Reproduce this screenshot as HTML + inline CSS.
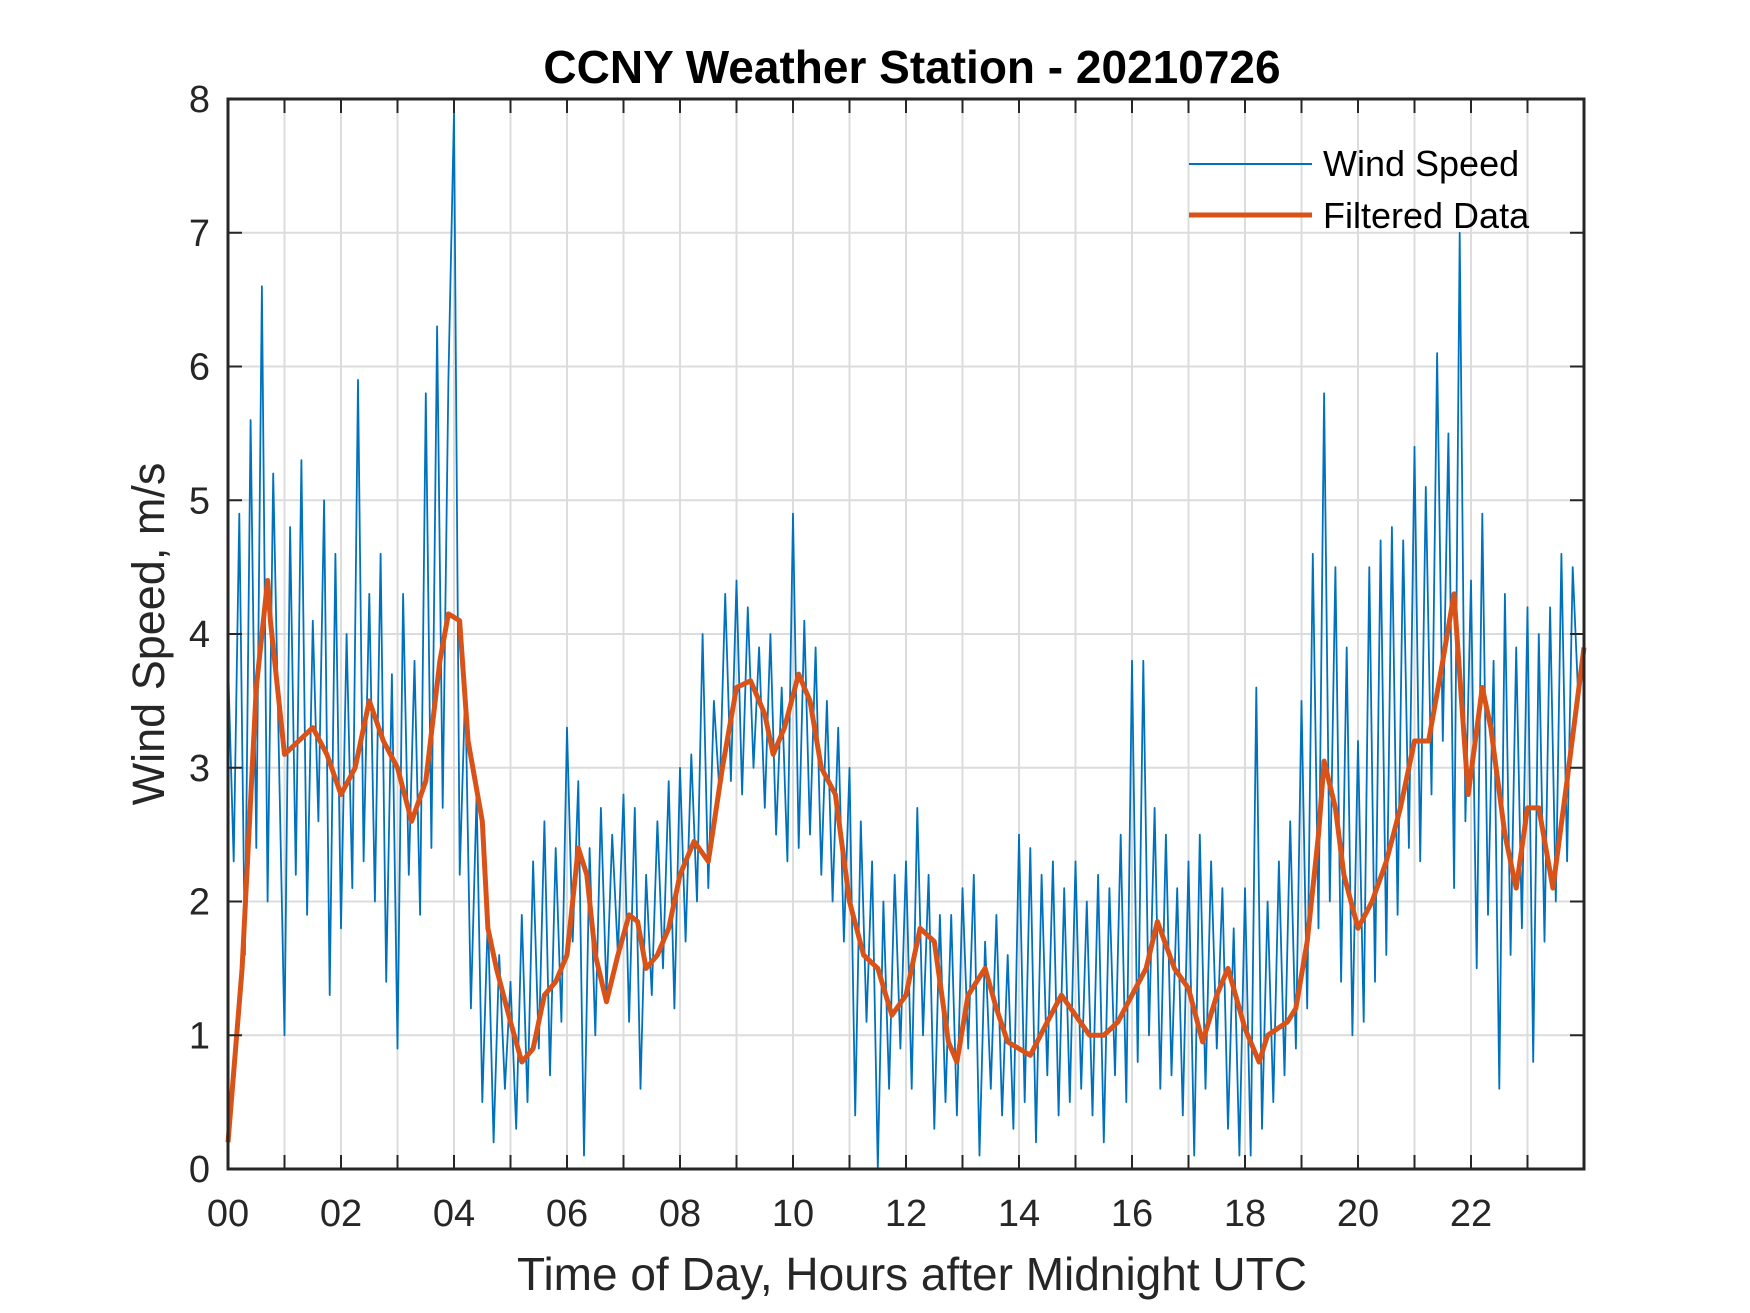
<!DOCTYPE html>
<html><head><meta charset="utf-8"><style>
html,body{margin:0;padding:0;background:#fff;}
svg{display:block;font-family:"Liberation Sans",Arial,sans-serif;}
</style></head><body>
<svg id="chart" width="1750" height="1313" viewBox="0 0 1750 1313" xmlns="http://www.w3.org/2000/svg">
<rect width="1750" height="1313" fill="#fff"/>
<g id="grid"></g>
<g id="series"></g>
<g id="axes"></g>
<text x="912" y="83" text-anchor="middle" font-size="46" font-weight="bold" fill="#000">CCNY Weather Station - 20210726</text>
<text x="912" y="1290" text-anchor="middle" font-size="46" fill="#262626">Time of Day, Hours after Midnight UTC</text>
<text transform="translate(164,634) rotate(-90)" text-anchor="middle" font-size="45" fill="#262626">Wind Speed, m/s</text>
<g>
<line x1="1199" y1="164" x2="1322" y2="164" stroke="#0072BD" stroke-width="2" transform="translate(-10,0)"/>
<text x="1323" y="176" font-size="36" fill="#000">Wind Speed</text>
<line x1="1189" y1="215" x2="1312" y2="215" stroke="#D95319" stroke-width="5"/>
<text x="1323" y="228" font-size="36" fill="#000">Filtered Data</text>
</g>
</svg>
<script>
const xTickLabels = ["00","02","04","06","08","10","12","14","16","18","20","22"];
const yTickLabels = ["0","1","2","3","4","5","6","7","8"];
const rawStep = 0.1;
const rawValues = [
3.8,2.3,4.9,1.6,5.6,2.4,6.6,2.0,5.2,3.1,
1.0,4.8,2.2,5.3,1.9,4.1,2.6,5.0,1.3,4.6,
1.8,4.0,2.1,5.9,2.3,4.3,2.0,4.6,1.4,3.7,
0.9,4.3,2.2,3.8,1.9,5.8,2.4,6.3,2.7,5.9,
7.9,2.2,3.6,1.2,2.8,0.5,1.9,0.2,1.6,0.6,
1.4,0.3,1.9,0.5,2.3,0.9,2.6,0.7,2.4,1.1,
3.3,1.7,2.9,0.1,2.4,1.0,2.7,1.3,2.5,1.6,
2.8,1.1,2.7,0.6,2.2,1.3,2.6,1.5,2.9,1.2,
3.0,1.7,3.1,2.0,4.0,2.1,3.5,2.8,4.3,2.9,
4.4,2.8,4.2,3.0,3.9,2.7,4.0,2.5,3.6,2.3,
4.9,2.4,4.1,2.5,3.9,2.2,3.5,2.0,3.3,1.7,
3.0,0.4,2.6,1.1,2.3,0.0,2.0,0.6,2.2,0.9,
2.3,0.6,2.7,1.0,2.2,0.3,1.9,0.5,1.9,0.4,
2.1,0.9,2.2,0.1,1.7,0.6,1.9,0.4,1.6,0.3,
2.5,0.5,2.4,0.2,2.2,0.7,2.3,0.4,2.1,0.5,
2.3,0.6,2.0,0.4,2.2,0.2,2.1,0.7,2.5,0.5,
3.8,0.8,3.8,1.0,2.7,0.6,2.5,0.7,2.1,0.4,
2.3,0.1,2.5,0.6,2.3,0.9,2.1,0.3,1.8,0.1,
2.1,0.1,3.6,0.3,2.0,0.5,2.3,0.7,2.6,0.9,
3.5,1.2,4.6,1.8,5.8,2.0,4.5,1.4,3.9,1.0,
3.2,1.1,4.5,1.4,4.7,1.6,4.8,1.9,4.7,2.4,
5.4,2.3,5.1,2.8,6.1,3.2,5.5,2.1,7.0,2.6,
4.4,1.5,4.9,1.9,3.8,0.6,4.3,1.6,3.9,1.8,
4.2,0.8,4.0,1.7,4.2,2.0,4.6,2.3,4.5,3.5
];
const filtHours = [0,0.25,0.5,0.7,0.75,1.0,1.25,1.5,1.75,2.0,2.25,2.5,2.75,3.0,3.25,3.5,3.75,3.9,4.1,4.25,4.5,4.6,4.75,5.0,5.2,5.4,5.6,5.8,6.0,6.2,6.35,6.5,6.7,6.9,7.1,7.25,7.4,7.6,7.8,8.0,8.25,8.5,8.75,9.0,9.25,9.5,9.65,9.85,10.1,10.3,10.5,10.75,11.0,11.25,11.5,11.75,12.0,12.25,12.5,12.75,12.9,13.1,13.4,13.6,13.8,14.0,14.2,14.5,14.75,15.0,15.25,15.5,15.75,16.0,16.25,16.45,16.75,17.0,17.25,17.5,17.7,18.0,18.25,18.4,18.75,18.9,19.1,19.3,19.4,19.6,19.75,20.0,20.25,20.5,20.75,21.0,21.25,21.5,21.7,21.85,21.95,22.2,22.35,22.6,22.8,23.0,23.2,23.45,23.7,24];
const filtValues = [0.2,1.5,3.6,4.4,4.1,3.1,3.2,3.3,3.1,2.8,3.0,3.5,3.2,3.0,2.6,2.9,3.8,4.15,4.1,3.2,2.6,1.8,1.5,1.1,0.8,0.9,1.3,1.4,1.6,2.4,2.2,1.6,1.25,1.6,1.9,1.85,1.5,1.6,1.8,2.2,2.45,2.3,3.0,3.6,3.65,3.4,3.1,3.3,3.7,3.5,3.0,2.8,2.0,1.6,1.5,1.15,1.3,1.8,1.7,0.95,0.8,1.3,1.5,1.2,0.95,0.9,0.85,1.1,1.3,1.15,1.0,1.0,1.1,1.3,1.5,1.85,1.5,1.35,0.95,1.3,1.5,1.05,0.8,1.0,1.1,1.2,1.7,2.5,3.05,2.7,2.2,1.8,2.0,2.3,2.7,3.2,3.2,3.8,4.3,3.4,2.8,3.6,3.3,2.5,2.1,2.7,2.7,2.1,2.9,3.9];

const L=228, R=1584, T=99, B=1169;
const xS = h => L + (h/24)*(R-L);
const yS = v => B - (v/8)*(B-T);
const NS="http://www.w3.org/2000/svg";
function mk(tag, attrs, parent){const e=document.createElementNS(NS,tag);for(const k in attrs)e.setAttribute(k,attrs[k]);parent.appendChild(e);return e;}
const grid=document.getElementById('grid'), axes=document.getElementById('axes'), series=document.getElementById('series');

for(let h=1;h<24;h++){
  const gl=mk('line',{x1:xS(h),x2:xS(h),y1:T,y2:B,stroke:'#dcdcdc','stroke-width':2},grid);
  
  
  const t1=mk('line',{x1:xS(h),x2:xS(h),y1:B,y2:B-14,stroke:'#262626','stroke-width':2},axes);
  
  
  const t2=mk('line',{x1:xS(h),x2:xS(h),y1:T,y2:T+14,stroke:'#262626','stroke-width':2},axes);
  
  
}
xTickLabels.forEach((lab,i)=>{
  const t=mk('text',{x:xS(i*2),y:B+57,'text-anchor':'middle','font-size':38,fill:'#262626'},axes);
  t.textContent=lab;
  
  
});
yTickLabels.forEach((lab,i)=>{
  if(i>0&&i<8){
    const gl=mk('line',{x1:L,x2:R,y1:yS(i),y2:yS(i),stroke:'#dcdcdc','stroke-width':2},grid);
    
    
    const t1=mk('line',{x1:L,x2:L+14,y1:yS(i),y2:yS(i),stroke:'#262626','stroke-width':2},axes);
    
    
    const t2=mk('line',{x1:R,x2:R-14,y1:yS(i),y2:yS(i),stroke:'#262626','stroke-width':2},axes);
    
    
  }
  const t=mk('text',{x:L-18,y:yS(i)+13,'text-anchor':'end','font-size':38,fill:'#262626'},axes);
  t.textContent=lab;
  
  
});
const box=mk('rect',{x:L,y:T,width:R-L,height:B-T,fill:'none',stroke:'#262626','stroke-width':3},axes);



const rawPts=rawValues.map((v,i)=>xS(Math.min(i*rawStep,24)).toFixed(1)+','+yS(v).toFixed(1)).join(' ');
const raw=mk('polyline',{points:rawPts,fill:'none',stroke:'#0072BD','stroke-width':1.8,'stroke-linejoin':'round'},series);


const fPts=filtHours.map((h,i)=>xS(h).toFixed(1)+','+yS(filtValues[i]).toFixed(1)).join(' ');
const f=mk('polyline',{points:fPts,fill:'none',stroke:'#D95319','stroke-width':5,'stroke-linejoin':'round'},series);


</script>
</body></html>
